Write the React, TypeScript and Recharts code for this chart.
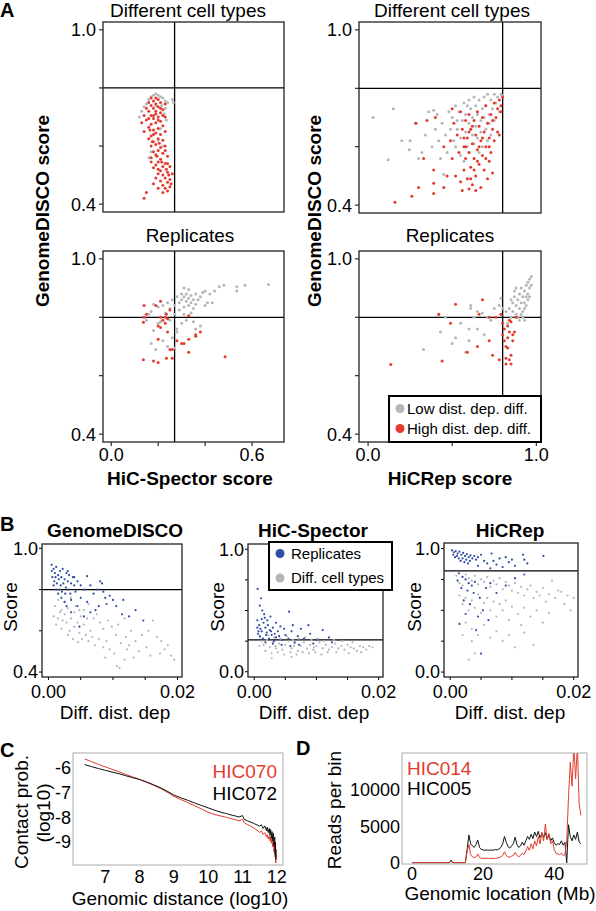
import { ScatterChart, Scatter, XAxis, YAxis, ReferenceLine, LineChart, Line } from 'recharts';

const FONT = '"Liberation Sans", Arial, Helvetica, sans-serif';
const RED = '#e53a2e';
const GREY = '#b3b6ba';
const BLUE = '#2f4ea6';

// Panel A: different cell types, HiC-Spector vs GenomeDISCO
const cellSpectorLow = [
  [0.18, 0.775], [0.19, 0.78], [0.2, 0.775], [0.21, 0.77], [0.22, 0.765], [0.17, 0.77], [0.23, 0.755], [0.24, 0.75],
  [0.26, 0.76], [0.265, 0.75], [0.14, 0.735], [0.13, 0.72], [0.15, 0.745], [0.16, 0.76], [0.215, 0.74], [0.23, 0.73],
  [0.225, 0.71], [0.235, 0.69], [0.12, 0.7], [0.2, 0.62], [0.22, 0.6], [0.16, 0.56], [0.17, 0.58], [0.21, 0.66], [0.19, 0.74]
];
const cellSpectorHigh = [
  [0.17, 0.765], [0.19, 0.765], [0.2, 0.76], [0.18, 0.755], [0.16, 0.75], [0.21, 0.75], [0.19, 0.745], [0.17, 0.74],
  [0.2, 0.735], [0.15, 0.73], [0.18, 0.73], [0.22, 0.725], [0.16, 0.72], [0.19, 0.72], [0.21, 0.715], [0.14, 0.705],
  [0.17, 0.705], [0.2, 0.7], [0.23, 0.7], [0.18, 0.695], [0.15, 0.69], [0.21, 0.685], [0.13, 0.68], [0.19, 0.68],
  [0.17, 0.675], [0.22, 0.67], [0.16, 0.665], [0.2, 0.66], [0.18, 0.655], [0.23, 0.65], [0.14, 0.65], [0.19, 0.645],
  [0.21, 0.64], [0.17, 0.635], [0.16, 0.625], [0.2, 0.625], [0.22, 0.62], [0.18, 0.615], [0.19, 0.605], [0.23, 0.6],
  [0.17, 0.6], [0.21, 0.595], [0.2, 0.585], [0.18, 0.58], [0.22, 0.575], [0.19, 0.57], [0.24, 0.565], [0.17, 0.56],
  [0.21, 0.555], [0.2, 0.545], [0.23, 0.54], [0.19, 0.535], [0.22, 0.53], [0.25, 0.53], [0.18, 0.525], [0.21, 0.515],
  [0.24, 0.51], [0.2, 0.505], [0.22, 0.5], [0.26, 0.505], [0.23, 0.49], [0.25, 0.485], [0.21, 0.48], [0.24, 0.475],
  [0.22, 0.465], [0.25, 0.46], [0.23, 0.455], [0.24, 0.445], [0.22, 0.44], [0.2, 0.455], [0.15, 0.44], [0.14, 0.42],
  [0.18, 0.47], [0.19, 0.49], [0.2, 0.52], [0.17, 0.545], [0.23, 0.585], [0.24, 0.54], [0.18, 0.64], [0.2, 0.69],
  [0.22, 0.705], [0.16, 0.695], [0.19, 0.71], [0.21, 0.73], [0.23, 0.745], [0.18, 0.705], [0.165, 0.655], [0.175, 0.615],
  [0.205, 0.61], [0.195, 0.565], [0.215, 0.545], [0.235, 0.52], [0.255, 0.47], [0.245, 0.5]
];

// Panel A: different cell types, HiCRep vs GenomeDISCO
const cellRepLow = [
  [0.03, 0.7], [0.12, 0.555], [0.15, 0.73], [0.2, 0.62], [0.25, 0.62], [0.245, 0.59], [0.28, 0.68], [0.32, 0.58],
  [0.36, 0.72], [0.39, 0.725], [0.45, 0.505], [0.3, 0.56], [0.34, 0.64], [0.38, 0.6], [0.42, 0.62], [0.44, 0.68],
  [0.41, 0.71], [0.47, 0.58], [0.46, 0.64], [0.5, 0.7], [0.52, 0.74], [0.53, 0.66], [0.54, 0.72], [0.55, 0.63],
  [0.56, 0.69], [0.57, 0.75], [0.58, 0.71], [0.58, 0.65], [0.59, 0.6], [0.6, 0.76], [0.6, 0.68], [0.61, 0.73],
  [0.62, 0.64], [0.62, 0.7], [0.63, 0.77], [0.63, 0.61], [0.64, 0.74], [0.64, 0.67], [0.65, 0.71], [0.65, 0.63],
  [0.66, 0.76], [0.67, 0.69], [0.67, 0.65], [0.68, 0.73], [0.68, 0.6], [0.69, 0.77], [0.69, 0.7], [0.7, 0.66],
  [0.7, 0.74], [0.71, 0.62], [0.71, 0.78], [0.72, 0.71], [0.72, 0.68], [0.73, 0.76], [0.73, 0.64], [0.74, 0.73],
  [0.75, 0.78], [0.75, 0.69], [0.76, 0.75], [0.77, 0.77], [0.78, 0.72], [0.79, 0.78], [0.8, 0.775], [0.49, 0.66],
  [0.51, 0.62], [0.48, 0.72], [0.55, 0.57], [0.57, 0.55], [0.52, 0.6], [0.6, 0.58], [0.66, 0.58], [0.43, 0.56],
  [0.4, 0.66], [0.53, 0.69], [0.61, 0.66], [0.59, 0.74]
];
const cellRepHigh = [
  [0.16, 0.41], [0.26, 0.43], [0.3, 0.46], [0.39, 0.475], [0.39, 0.44], [0.33, 0.56], [0.39, 0.52], [0.285, 0.68],
  [0.4, 0.7], [0.5, 0.73], [0.78, 0.64], [0.35, 0.69], [0.45, 0.46], [0.47, 0.5], [0.45, 0.6], [0.55, 0.72],
  [0.56, 0.66], [0.57, 0.6], [0.57, 0.52], [0.58, 0.69], [0.58, 0.56], [0.59, 0.63], [0.59, 0.49], [0.6, 0.71],
  [0.6, 0.58], [0.61, 0.66], [0.61, 0.53], [0.62, 0.61], [0.62, 0.47], [0.63, 0.69], [0.63, 0.56], [0.64, 0.64],
  [0.64, 0.5], [0.65, 0.72], [0.65, 0.59], [0.66, 0.67], [0.66, 0.54], [0.67, 0.62], [0.67, 0.46], [0.68, 0.7],
  [0.68, 0.57], [0.69, 0.65], [0.69, 0.52], [0.7, 0.74], [0.7, 0.6], [0.71, 0.68], [0.71, 0.49], [0.72, 0.63],
  [0.72, 0.55], [0.73, 0.71], [0.73, 0.58], [0.74, 0.66], [0.74, 0.51], [0.75, 0.75], [0.75, 0.62], [0.76, 0.7],
  [0.77, 0.73], [0.77, 0.65], [0.78, 0.76], [0.79, 0.74], [0.8, 0.77], [0.79, 0.72], [0.53, 0.64], [0.54, 0.58],
  [0.52, 0.5], [0.55, 0.48], [0.5, 0.56], [0.49, 0.62], [0.51, 0.68], [0.56, 0.45], [0.6, 0.455], [0.64, 0.45],
  [0.66, 0.6], [0.62, 0.67], [0.68, 0.63], [0.7, 0.56], [0.72, 0.6], [0.6, 0.65], [0.58, 0.6], [0.65, 0.55],
  [0.63, 0.52], [0.61, 0.49], [0.57, 0.63], [0.74, 0.69]
];

// Panel A: replicates, HiC-Spector vs GenomeDISCO
const repSpectorLow = [
  [0.3, 0.86], [0.31, 0.87], [0.32, 0.855], [0.33, 0.865], [0.34, 0.85], [0.32, 0.88], [0.33, 0.84], [0.35, 0.86],
  [0.29, 0.85], [0.31, 0.835], [0.34, 0.875], [0.36, 0.845], [0.3, 0.88], [0.28, 0.87], [0.33, 0.895], [0.31, 0.9],
  [0.35, 0.83], [0.37, 0.86], [0.38, 0.87], [0.36, 0.88], [0.29, 0.825], [0.27, 0.84], [0.26, 0.86], [0.25, 0.83],
  [0.24, 0.85], [0.22, 0.84], [0.2, 0.835], [0.18, 0.845], [0.17, 0.82], [0.27, 0.81], [0.31, 0.81], [0.34, 0.815],
  [0.4, 0.84], [0.41, 0.85], [0.43, 0.85], [0.42, 0.88], [0.4, 0.89], [0.39, 0.885], [0.44, 0.89], [0.46, 0.905],
  [0.48, 0.91], [0.535, 0.89], [0.535, 0.905], [0.57, 0.91], [0.67, 0.912], [0.17, 0.71], [0.18, 0.755], [0.26, 0.73],
  [0.28, 0.76], [0.3, 0.78], [0.32, 0.79], [0.36, 0.76], [0.38, 0.77], [0.24, 0.7], [0.22, 0.72], [0.19, 0.69],
  [0.21, 0.785], [0.25, 0.79], [0.28, 0.75], [0.2, 0.78], [0.15, 0.79], [0.23, 0.815], [0.16, 0.81], [0.35, 0.785],
  [0.27, 0.695]
];
const repSpectorHigh = [
  [0.137, 0.783], [0.14, 0.8], [0.15, 0.81], [0.19, 0.84], [0.21, 0.855], [0.137, 0.655], [0.18, 0.65], [0.2, 0.645],
  [0.235, 0.66], [0.26, 0.66], [0.26, 0.69], [0.33, 0.68], [0.3, 0.71], [0.31, 0.71], [0.28, 0.72], [0.33, 0.725],
  [0.36, 0.74], [0.38, 0.75], [0.485, 0.665], [0.2, 0.77], [0.21, 0.765], [0.23, 0.8], [0.235, 0.81], [0.33, 0.805],
  [0.25, 0.69], [0.2, 0.725], [0.22, 0.79], [0.21, 0.8], [0.24, 0.795], [0.25, 0.825], [0.14, 0.84], [0.36, 0.735],
  [0.23, 0.78], [0.24, 0.75]
];

// Panel A: replicates, HiCRep vs GenomeDISCO
const repRepLow = [
  [0.88, 0.84], [0.89, 0.86], [0.9, 0.83], [0.9, 0.88], [0.91, 0.85], [0.91, 0.9], [0.92, 0.87], [0.92, 0.82],
  [0.93, 0.89], [0.93, 0.85], [0.94, 0.91], [0.94, 0.87], [0.95, 0.88], [0.95, 0.92], [0.96, 0.9], [0.96, 0.93],
  [0.97, 0.91], [0.97, 0.94], [0.87, 0.87], [0.86, 0.85], [0.85, 0.86], [0.88, 0.81], [0.89, 0.8], [0.9, 0.79],
  [0.91, 0.81], [0.92, 0.8], [0.93, 0.83], [0.94, 0.84], [0.95, 0.86], [0.87, 0.89], [0.88, 0.9], [0.86, 0.82],
  [0.85, 0.8], [0.84, 0.83], [0.96, 0.87], [0.93, 0.79], [0.33, 0.69], [0.5, 0.71], [0.43, 0.75], [0.61, 0.84],
  [0.61, 0.83], [0.65, 0.82], [0.6, 0.72], [0.58, 0.68], [0.6, 0.76], [0.65, 0.76], [0.69, 0.74], [0.71, 0.8],
  [0.75, 0.83], [0.79, 0.865], [0.73, 0.79], [0.63, 0.8], [0.46, 0.8], [0.42, 0.805], [0.68, 0.815], [0.78, 0.84],
  [0.8, 0.83], [0.55, 0.78], [0.52, 0.73], [0.83, 0.78], [0.82, 0.82]
];
const repRepHigh = [
  [0.135, 0.638], [0.42, 0.81], [0.44, 0.65], [0.49, 0.78], [0.52, 0.845], [0.59, 0.68], [0.65, 0.7], [0.68, 0.86],
  [0.66, 0.81], [0.72, 0.8], [0.72, 0.72], [0.74, 0.67], [0.78, 0.655], [0.76, 0.8], [0.8, 0.78], [0.8, 0.74],
  [0.81, 0.72], [0.82, 0.7], [0.83, 0.695], [0.82, 0.66], [0.84, 0.655], [0.85, 0.67], [0.86, 0.74], [0.83, 0.77],
  [0.84, 0.79], [0.85, 0.785], [0.88, 0.8], [0.82, 0.64], [0.85, 0.64], [0.87, 0.75], [0.84, 0.75], [0.86, 0.72],
  [0.79, 0.81], [0.81, 0.76], [0.83, 0.73]
];

// Panel B: score vs difference in distance dependence
const discoRep = [
  [0.0005, 0.92], [0.0008, 0.9], [0.001, 0.88], [0.0012, 0.91], [0.0015, 0.87], [0.0018, 0.89], [0.002, 0.86],
  [0.0022, 0.9], [0.0025, 0.85], [0.0028, 0.88], [0.003, 0.84], [0.0032, 0.87], [0.0035, 0.83], [0.0038, 0.86],
  [0.004, 0.82], [0.0006, 0.86], [0.0009, 0.84], [0.0013, 0.83], [0.0016, 0.85], [0.0019, 0.82], [0.0023, 0.83],
  [0.0027, 0.81], [0.0005, 0.89], [0.0011, 0.86], [0.0017, 0.8], [0.0021, 0.79], [0.0026, 0.78], [0.0031, 0.8],
  [0.0034, 0.78], [0.0042, 0.79], [0.0045, 0.84], [0.005, 0.82], [0.0055, 0.8], [0.006, 0.865], [0.0065, 0.82],
  [0.007, 0.78], [0.0075, 0.8], [0.008, 0.84], [0.0083, 0.83], [0.0085, 0.79], [0.009, 0.73], [0.0095, 0.77],
  [0.01, 0.75], [0.0105, 0.72], [0.0116, 0.75], [0.0114, 0.68], [0.0073, 0.7], [0.0147, 0.65], [0.0125, 0.67],
  [0.006, 0.74], [0.005, 0.76], [0.0045, 0.72], [0.0035, 0.75], [0.0025, 0.74], [0.002, 0.76], [0.0015, 0.78],
  [0.0078, 0.72], [0.0088, 0.76], [0.0065, 0.69], [0.0055, 0.67], [0.0135, 0.7], [0.0035, 0.69], [0.0048, 0.62],
  [0.0028, 0.72], [0.0012, 0.8], [0.0008, 0.82], [0.004, 0.86], [0.003, 0.89]
];
const discoCell = [
  [0.0018, 0.69], [0.001, 0.72], [0.0015, 0.66], [0.002, 0.7], [0.0025, 0.68], [0.003, 0.71], [0.0035, 0.66],
  [0.004, 0.69], [0.0045, 0.64], [0.005, 0.67], [0.0055, 0.63], [0.006, 0.66], [0.0065, 0.6], [0.0012, 0.63],
  [0.002, 0.61], [0.0028, 0.64], [0.0033, 0.6], [0.004, 0.62], [0.0048, 0.59], [0.0052, 0.56], [0.0058, 0.58],
  [0.0062, 0.55], [0.0068, 0.57], [0.0072, 0.53], [0.0078, 0.56], [0.0046, 0.545], [0.0085, 0.52], [0.009, 0.55],
  [0.0095, 0.51], [0.0106, 0.43], [0.011, 0.42], [0.0122, 0.51], [0.0152, 0.52], [0.0173, 0.49], [0.019, 0.48],
  [0.0162, 0.65], [0.0155, 0.6], [0.0145, 0.58], [0.0135, 0.55], [0.0128, 0.6], [0.012, 0.57], [0.0112, 0.54],
  [0.0105, 0.58], [0.0098, 0.62], [0.0092, 0.65], [0.0085, 0.61], [0.008, 0.64], [0.0075, 0.68], [0.007, 0.66],
  [0.0175, 0.55], [0.0185, 0.53], [0.0168, 0.57], [0.0158, 0.48], [0.014, 0.5], [0.0132, 0.47], [0.0118, 0.46],
  [0.0025, 0.74], [0.0035, 0.76], [0.0015, 0.75], [0.0055, 0.7], [0.0062, 0.73], [0.0042, 0.72], [0.0022, 0.65],
  [0.0008, 0.67], [0.003, 0.58], [0.0038, 0.56], [0.0048, 0.7], [0.0102, 0.49], [0.0088, 0.47], [0.0195, 0.46],
  [0.018, 0.51], [0.0108, 0.63], [0.0118, 0.66], [0.0125, 0.53]
];
const spectorRep = [
  [0.00055, 0.676], [0.0009, 0.54], [0.0012, 0.43], [0.0017, 0.44], [0.0056, 0.49], [0.0087, 0.38], [0.0005, 0.42],
  [0.0008, 0.38], [0.001, 0.35], [0.0012, 0.33], [0.0015, 0.4], [0.0018, 0.36], [0.002, 0.32], [0.0022, 0.38],
  [0.0025, 0.34], [0.0028, 0.3], [0.003, 0.36], [0.0033, 0.31], [0.0035, 0.28], [0.0006, 0.31], [0.0009, 0.29],
  [0.0014, 0.27], [0.0019, 0.3], [0.0024, 0.27], [0.0027, 0.33], [0.0032, 0.25], [0.0038, 0.33], [0.004, 0.29],
  [0.0045, 0.26], [0.005, 0.3], [0.0055, 0.27], [0.006, 0.33], [0.0065, 0.24], [0.007, 0.29], [0.0075, 0.35],
  [0.008, 0.27], [0.009, 0.31], [0.01, 0.26], [0.011, 0.34], [0.012, 0.28], [0.0125, 0.24], [0.0042, 0.37],
  [0.0048, 0.35], [0.0062, 0.38], [0.0035, 0.4], [0.0026, 0.45], [0.0013, 0.5], [0.0011, 0.6], [0.0016, 0.47],
  [0.0021, 0.42], [0.0072, 0.22], [0.0058, 0.21], [0.0044, 0.22], [0.003, 0.23], [0.0018, 0.24], [0.0095, 0.23],
  [0.0005, 0.36], [0.0007, 0.33], [0.0135, 0.26]
];
const spectorCell = [
  [0.001, 0.28], [0.0015, 0.22], [0.002, 0.26], [0.0025, 0.2], [0.003, 0.24], [0.0035, 0.19], [0.004, 0.23],
  [0.0045, 0.18], [0.005, 0.22], [0.0055, 0.25], [0.006, 0.19], [0.0065, 0.23], [0.007, 0.17], [0.0075, 0.21],
  [0.008, 0.24], [0.0085, 0.19], [0.009, 0.22], [0.0095, 0.18], [0.01, 0.21], [0.0105, 0.24], [0.011, 0.19],
  [0.0115, 0.22], [0.012, 0.18], [0.0125, 0.2], [0.013, 0.23], [0.0135, 0.19], [0.014, 0.21], [0.0145, 0.18],
  [0.015, 0.22], [0.0155, 0.2], [0.016, 0.19], [0.0165, 0.17], [0.017, 0.21], [0.0175, 0.2], [0.018, 0.18],
  [0.0185, 0.21], [0.019, 0.2], [0.0018, 0.17], [0.0028, 0.15], [0.0038, 0.16], [0.0048, 0.14], [0.0058, 0.16],
  [0.0068, 0.14], [0.0078, 0.16], [0.0088, 0.15], [0.0098, 0.16], [0.0108, 0.14], [0.0118, 0.16], [0.0022, 0.3],
  [0.0032, 0.28], [0.0042, 0.27], [0.0052, 0.29], [0.0062, 0.26], [0.0072, 0.27], [0.0082, 0.28], [0.0092, 0.26],
  [0.0102, 0.27], [0.0112, 0.25], [0.0128, 0.26], [0.0142, 0.25], [0.0158, 0.24], [0.0012, 0.25], [0.0008, 0.21],
  [0.0034, 0.21], [0.0064, 0.21], [0.0096, 0.2], [0.0132, 0.16], [0.0152, 0.15], [0.0172, 0.16], [0.0028, 0.11],
  [0.006, 0.12]
];
const hicrepRep = [
  [0.0003, 0.985], [0.0006, 0.97], [0.0009, 0.98], [0.0012, 0.96], [0.0015, 0.975], [0.0018, 0.95], [0.0021, 0.965],
  [0.0024, 0.94], [0.0027, 0.955], [0.003, 0.93], [0.0033, 0.945], [0.0036, 0.92], [0.0039, 0.94], [0.0042, 0.91],
  [0.0005, 0.95], [0.0008, 0.93], [0.0011, 0.94], [0.0014, 0.92], [0.0017, 0.9], [0.002, 0.92], [0.0023, 0.89],
  [0.0026, 0.91], [0.0029, 0.88], [0.0032, 0.9], [0.0045, 0.93], [0.005, 0.95], [0.0055, 0.9], [0.006, 0.88],
  [0.0067, 0.96], [0.007, 0.9], [0.0075, 0.87], [0.008, 0.92], [0.009, 0.93], [0.0095, 0.89], [0.01, 0.91],
  [0.0105, 0.86], [0.0118, 0.95], [0.012, 0.91], [0.0125, 0.88], [0.0151, 0.94], [0.0085, 0.85], [0.0065, 0.84],
  [0.0045, 0.86], [0.0014, 0.8], [0.002, 0.77], [0.0025, 0.75], [0.003, 0.72], [0.0035, 0.7], [0.004, 0.73],
  [0.0012, 0.74], [0.0018, 0.68], [0.0028, 0.66], [0.0038, 0.64], [0.0048, 0.6], [0.0053, 0.5], [0.0042, 0.34],
  [0.0015, 0.39], [0.005, 0.15], [0.0058, 0.68], [0.0065, 0.72], [0.0075, 0.64], [0.009, 0.7], [0.0022, 0.58],
  [0.0032, 0.55], [0.0045, 0.45], [0.0062, 0.42], [0.0025, 0.47], [0.0105, 0.76], [0.012, 0.79]
];
const hicrepCell = [
  [0.001, 0.78], [0.0015, 0.72], [0.002, 0.7], [0.0025, 0.79], [0.003, 0.76], [0.0035, 0.74], [0.004, 0.78],
  [0.0045, 0.71], [0.005, 0.75], [0.0055, 0.73], [0.006, 0.77], [0.0065, 0.69], [0.007, 0.74], [0.0075, 0.71],
  [0.008, 0.76], [0.0085, 0.67], [0.009, 0.73], [0.0095, 0.7], [0.01, 0.66], [0.0105, 0.72], [0.011, 0.64],
  [0.0115, 0.69], [0.012, 0.62], [0.0125, 0.67], [0.013, 0.7], [0.0135, 0.6], [0.014, 0.65], [0.0145, 0.62],
  [0.015, 0.68], [0.0155, 0.57], [0.0165, 0.74], [0.016, 0.63], [0.017, 0.6], [0.0175, 0.66], [0.018, 0.65],
  [0.0185, 0.55], [0.019, 0.62], [0.0195, 0.5], [0.02, 0.6], [0.0015, 0.62], [0.002, 0.55], [0.0025, 0.6],
  [0.003, 0.5], [0.0035, 0.58], [0.004, 0.52], [0.0045, 0.63], [0.005, 0.48], [0.0055, 0.56], [0.006, 0.6],
  [0.0065, 0.5], [0.007, 0.57], [0.0075, 0.45], [0.008, 0.55], [0.0085, 0.5], [0.009, 0.58], [0.0095, 0.42],
  [0.01, 0.53], [0.011, 0.47], [0.012, 0.52], [0.013, 0.45], [0.014, 0.5], [0.015, 0.4], [0.016, 0.48],
  [0.0025, 0.4], [0.0035, 0.35], [0.0045, 0.3], [0.0055, 0.38], [0.0065, 0.28], [0.0075, 0.33], [0.0085, 0.25],
  [0.0095, 0.3], [0.0105, 0.2], [0.0035, 0.25], [0.004, 0.15], [0.002, 0.3], [0.003, 0.1], [0.012, 0.32],
  [0.0135, 0.22], [0.0115, 0.38]
];

// Panel C: contact probability vs genomic distance (log10)
const contactDist = [
  6.4, 6.6, 6.8, 7.0, 7.2, 7.4, 7.6, 7.8, 8.0, 8.2, 8.4, 8.6, 8.8, 9.0, 9.2, 9.4, 9.6, 9.8, 10.0, 10.2, 10.4,
  10.5, 10.6, 10.7, 10.8, 10.9, 11.0, 11.05, 11.15, 11.25, 11.35, 11.45, 11.5,
  11.55, 11.6, 11.65, 11.7, 11.72, 11.75, 11.78, 11.8, 11.82, 11.84, 11.86, 11.88, 11.9, 11.92, 11.94, 11.95, 11.96, 11.97, 11.98
];
const hic072 = [
  -5.87, -5.95, -6.03, -6.1, -6.17, -6.24, -6.32, -6.4, -6.47, -6.57, -6.68, -6.8, -6.94, -7.1, -7.21, -7.31, -7.42, -7.52, -7.62, -7.72, -7.81,
  -7.84, -7.88, -7.92, -7.95, -7.99, -7.93, -8.08, -8.15, -8.2, -8.26, -8.33, -8.36,
  -8.3, -8.45, -8.35, -8.55, -8.4, -8.62, -8.45, -8.72, -8.5, -8.85, -8.58, -8.95, -8.65, -9.15, -8.8, -9.5, -9.0, -9.7, -9.3
];
const hic070 = [
  -5.64, -5.75, -5.86, -5.96, -6.06, -6.16, -6.27, -6.37, -6.47, -6.58, -6.7, -6.83, -6.98, -7.15, -7.28, -7.4, -7.53, -7.66, -7.8, -7.89, -7.96,
  -7.99, -8.03, -8.07, -8.1, -8.14, -8.08, -8.22, -8.3, -8.37, -8.45, -8.55, -8.62,
  -8.55, -8.7, -8.62, -8.8, -8.7, -8.88, -8.75, -8.95, -8.82, -9.05, -8.85, -9.2, -8.95, -9.4, -9.05, -9.6, -9.3, -9.85, -9.5
];

// Panel D: reads per bin along the chromosome (Mb)
const genomicLoc = [
  0, 0.5, 1, 1.5, 2, 2.5, 3, 3.5, 4, 4.5, 5, 5.5, 6, 6.5, 7, 7.5, 8, 8.5, 9, 9.5, 10, 10.5,
  11, 11.5, 12, 12.5, 13, 13.5, 14, 14.5, 15, 15.5, 16, 16.5, 17, 17.5, 18, 18.5, 19, 19.5,
  20, 20.5, 21, 21.5, 22, 22.5, 23, 23.5, 24, 24.5, 25, 25.5, 26, 26.5, 27, 27.5, 28, 28.5, 29, 29.5,
  30, 30.5, 31, 31.5, 32, 32.5, 33, 33.5, 34, 34.5, 35, 35.5, 36, 36.5, 37, 37.5, 38, 38.5, 39, 39.5,
  40, 40.5, 41, 41.5, 42, 42.5, 43, 43.5, 44, 44.5, 45, 45.5, 46, 46.5, 47, 47.5
];
const hic005 = [
  0, 0, 0, 0, 0, 0, 0, 0, 0, 0, 0, 0, 0, 0, 0, 0, 0, 0, 0, 0, 0, 0,
  350, 0, 0, 0, 0, 0, 0, 0, 0, 1800, 3800, 2600, 2300, 2100, 2500, 3100, 2100, 1800,
  1750, 1700, 1750, 1700, 1750, 1700, 1750, 1800, 1750, 1900, 2100, 2600, 3600, 2800, 2200, 2000, 2300, 2600, 3500, 2500,
  2100, 2300, 2800, 2400, 3000, 3600, 3200, 3900, 3300, 4200, 3600, 4300, 3400, 4000, 3500, 4100, 3200, 3800, 3000, 3400,
  2700, 2400, 2600, 2500, 3000, 2400, 2800, 0, 5200, 3600, 3000, 3800, 3200, 4200, 2800, 2600
];
const hic014 = [
  0, 0, 0, 0, 0, 0, 0, 0, 0, 0, 0, 0, 0, 0, 0, 0, 0, 0, 0, 0, 0, 0,
  250, 0, 0, 0, 0, 0, 0, 0, 0, 1500, 2500, 1100, 800, 700, 800, 1200, 700, 600,
  600, 560, 620, 580, 600, 570, 620, 590, 640, 700, 800, 1000, 1500, 1000, 800, 750, 900, 1000, 1400, 1000,
  800, 1000, 1300, 1100, 1600, 2200, 1700, 2600, 1900, 3000, 2300, 3600, 2600, 4200, 3000, 5300, 3200, 4000, 2600, 3000,
  1800, 1300, 1200, 1100, 1300, 1000, 1100, 3000, 9000, 13800, 10500, 16000, 11500, 16000, 8000, 6500
];

const contactData = contactDist.map((d, i) => ({ d, b: hic072[i], r: hic070[i] }));
const readsData = genomicLoc.map((x, i) => ({ x, b: hic005[i], r: hic014[i] }));

const tickStyle = { fill: '#000', fontSize: 18, fontFamily: FONT };

const labeler = (pairs: [number, string][]) => (v: number) => {
  const hit = pairs.find(p => Math.abs(p[0] - v) < 1e-9);
  return hit ? hit[1] : '';
};

const dot = (color: string, r: number) => (p: any) => <circle cx={p.cx} cy={p.cy} r={r} fill={color} />;

function ScatterPanel({ box, xDomain, yDomain, xTicks, yTicks, xLabels, yLabels, refX, refY, series, r, showX, tickLen, yMargin, xMargin }: any) {
  const YW = 50, PAD = 6, XH = 30, RP = 26;
  const [x0, y0, x1, y1] = box;
  return (
    <div style={{ position: 'absolute', left: x0 - YW, top: y0 - PAD }}>
      <ScatterChart
        width={x1 - x0 + YW + RP}
        height={y1 - y0 + PAD + (showX ? XH : PAD)}
        margin={{ top: PAD, right: RP, bottom: showX ? 0 : PAD, left: 0 }}
      >
        <XAxis type="number" dataKey="x" domain={xDomain} allowDataOverflow ticks={xTicks} interval={0}
          tickFormatter={labeler(xLabels)} hide={!showX} height={XH} axisLine={false}
          tickSize={tickLen} tickMargin={xMargin} tickLine={{ stroke: '#000' }} tick={tickStyle} />
        <YAxis type="number" dataKey="y" domain={yDomain} allowDataOverflow ticks={yTicks} interval={0}
          tickFormatter={labeler(yLabels)} width={YW} axisLine={false}
          tickSize={tickLen} tickMargin={yMargin} tickLine={{ stroke: '#000' }} tick={tickStyle} />
        {refX !== undefined && <ReferenceLine x={refX} stroke="#000" strokeWidth={1.3} />}
        {refY !== undefined && <ReferenceLine y={refY} stroke="#000" strokeWidth={1.3} />}
        {series.map((s: any, i: number) => (
          <Scatter key={i} data={s.data.map(([x, y]: number[]) => ({ x, y }))} shape={dot(s.color, r)} isAnimationActive={false} />
        ))}
      </ScatterChart>
    </div>
  );
}

const A_Y: [number, string][] = [[1, '1.0'], [0.4, '0.4']];
const B_X: [number, string][] = [[0, '0.00'], [0.02, '0.02']];

export default function App() {
  const aCommon = { yDomain: [0.373, 1.027], yTicks: [0.4, 0.6, 0.8, 1.0], yLabels: A_Y, refY: 0.8, r: 1.5, tickLen: 4, yMargin: 3, xMargin: 2 };
  const bCommon = { xDomain: [-0.001, 0.0207], xTicks: [0, 0.005, 0.01, 0.015, 0.02], xLabels: B_X, r: 1.1, tickLen: 3, yMargin: 1, xMargin: 5, showX: true };
  return (
    <div style={{ position: 'absolute', left: 0, top: 0, width: 596, height: 911, background: '#fff', fontFamily: FONT }}>
      <ScatterPanel {...aCommon} box={[103, 22, 284, 212]} xDomain={[-0.035, 0.736]} xTicks={[0, 0.2, 0.4, 0.6]} xLabels={[]}
        refX={0.27} showX={false} series={[{ data: cellSpectorLow, color: GREY }, { data: cellSpectorHigh, color: RED }]} />
      <ScatterPanel {...aCommon} box={[359, 22, 541, 213]} xDomain={[-0.054, 1.028]} xTicks={[0, 0.5, 1]} xLabels={[]}
        refX={0.8} showX={false} series={[{ data: cellRepLow, color: GREY }, { data: cellRepHigh, color: RED }]} />
      <ScatterPanel {...aCommon} box={[103, 251, 284, 442]} xDomain={[-0.035, 0.736]} xTicks={[0, 0.2, 0.4, 0.6]}
        xLabels={[[0, '0.0'], [0.6, '0.6']]} refX={0.27} showX
        series={[{ data: repSpectorLow, color: GREY }, { data: repSpectorHigh, color: RED }]} />
      <ScatterPanel {...aCommon} box={[359, 251, 541, 442]} xDomain={[-0.054, 1.028]} xTicks={[0, 0.5, 1]}
        xLabels={[[0, '0.0'], [1, '1.0']]} refX={0.8} showX
        series={[{ data: repRepLow, color: GREY }, { data: repRepHigh, color: RED }]} />

      <ScatterPanel {...bCommon} box={[42, 544, 182, 677]} yDomain={[0.376, 1.021]} yTicks={[0.4, 0.6, 0.8, 1.0]} yLabels={A_Y}
        refY={0.8} series={[{ data: discoCell, color: GREY }, { data: discoRep, color: BLUE }]} />
      <ScatterPanel {...bCommon} box={[248, 544, 383, 677]} yDomain={[-0.043, 1.043]} yTicks={[0, 0.25, 0.5, 0.75, 1]}
        yLabels={[[1, '1.0'], [0, '0.0']]} refY={0.26} series={[{ data: spectorCell, color: GREY }, { data: spectorRep, color: BLUE }]} />
      <ScatterPanel {...bCommon} box={[444, 543, 578, 677]} yDomain={[-0.04, 1.045]} yTicks={[0, 0.25, 0.5, 0.75, 1]}
        yLabels={[[1, '1.0'], [0, '0.0']]} refY={0.82} series={[{ data: hicrepCell, color: GREY }, { data: hicrepRep, color: BLUE }]} />

      <div style={{ position: 'absolute', left: 73 - 40, top: 753 }}>
        <LineChart width={210 + 40 + 12} height={112 + 30} data={contactData} margin={{ top: 0, right: 12, bottom: 0, left: 0 }}>
          <XAxis type="number" dataKey="d" domain={[6.06, 12.18]} allowDataOverflow ticks={[7, 8, 9, 10, 11, 12]} interval={0}
            height={30} axisLine={false} tickLine={false} tickSize={0} tickMargin={5} tick={tickStyle} />
          <YAxis type="number" domain={[-9.93, -5.4]} allowDataOverflow ticks={[-9, -8, -7, -6]} interval={0}
            width={40} axisLine={false} tickLine={false} tickSize={0} tickMargin={2} tick={tickStyle} />
          <Line type="linear" dataKey="r" stroke={RED} strokeWidth={1} dot={false} isAnimationActive={false} />
          <Line type="linear" dataKey="b" stroke="#111" strokeWidth={1} dot={false} isAnimationActive={false} />
        </LineChart>
      </div>

      <div style={{ position: 'absolute', left: 402 - 60, top: 753 }}>
        <LineChart width={185 + 60 + 8} height={111 + 30} data={readsData} margin={{ top: 0, right: 8, bottom: 0, left: 0 }}>
          <XAxis type="number" dataKey="x" domain={[-2.8, 49.2]} allowDataOverflow ticks={[0, 20, 40]} interval={0}
            height={30} axisLine={false} tickLine={false} tickSize={0} tickMargin={3} tick={tickStyle} />
          <YAxis type="number" domain={[-180, 15050]} allowDataOverflow ticks={[0, 5000, 10000]} interval={0}
            width={60} axisLine={false} tickLine={false} tickSize={0} tickMargin={2} tick={tickStyle} />
          <Line type="linear" dataKey="b" stroke="#111" strokeWidth={1} dot={false} isAnimationActive={false} />
          <Line type="linear" dataKey="r" stroke={RED} strokeWidth={1} dot={false} isAnimationActive={false} />
        </LineChart>
      </div>

      <svg width={596} height={911} style={{ position: 'absolute', left: 0, top: 0, pointerEvents: 'none' }} fontFamily={FONT}>
        {/* frames */}
        <g fill="none" stroke="#222" strokeWidth={1.3}>
          <rect x={103} y={22} width={181} height={190} />
          <rect x={359} y={22} width={182} height={191} />
          <rect x={103} y={251} width={181} height={191} />
          <rect x={359} y={251} width={182} height={191} />
          <rect x={42} y={544} width={140} height={133} />
          <rect x={248} y={544} width={135} height={133} />
          <rect x={444} y={543} width={134} height={134} />
        </g>
        <g fill="none" stroke="#aaa" strokeWidth={1}>
          <rect x={73} y={753} width={210} height={112} />
          <rect x={402} y={753} width={185} height={111} />
        </g>

        {/* panel letters */}
        <g fontWeight="bold" fontSize={20}>
          <text x={0} y={17}>A</text>
          <text x={0} y={531}>B</text>
          <text x={0} y={757}>C</text>
          <text x={296} y={755}>D</text>
        </g>

        {/* panel A text */}
        <g fontSize={19} fontWeight="normal" textAnchor="middle">
          <text x={188} y={17}>Different cell types</text>
          <text x={452} y={17}>Different cell types</text>
          <text x={190} y={242}>Replicates</text>
          <text x={450} y={242}>Replicates</text>
        </g>
        <g fontSize={19} fontWeight="bold" textAnchor="middle">
          <text transform="translate(49,211) rotate(-90)">GenomeDISCO score</text>
          <text transform="translate(321,211) rotate(-90)">GenomeDISCO score</text>
          <text x={190} y={485}>HiC-Spector score</text>
          <text x={450} y={485}>HiCRep score</text>
        </g>
        <rect x={389} y={396} width={152} height={46} fill="#fff" stroke="#000" strokeWidth={2} />
        <circle cx={400} cy={408.5} r={4.5} fill={GREY} />
        <circle cx={400} cy={428.5} r={4.5} fill={RED} />
        <text x={407} y={413.5} fontSize={15}>Low dist. dep. diff.</text>
        <text x={407} y={433.5} fontSize={15}>High dist. dep. diff.</text>

        {/* panel B text */}
        <g fontSize={19} fontWeight="bold" textAnchor="middle">
          <text x={115} y={537}>GenomeDISCO</text>
          <text x={313} y={537}>HiC-Spector</text>
          <text x={510} y={537}>HiCRep</text>
        </g>
        <g fontSize={19} fontWeight="normal" textAnchor="middle">
          <text transform="translate(17,607) rotate(-90)">Score</text>
          <text transform="translate(224,607) rotate(-90)">Score</text>
          <text transform="translate(421,607) rotate(-90)">Score</text>
          <text x={115} y={719}>Diff. dist. dep</text>
          <text x={314} y={719}>Diff. dist. dep</text>
          <text x={510} y={719}>Diff. dist. dep</text>
        </g>
        <rect x={269} y={542} width={123} height={48} fill="#fff" stroke="#000" strokeWidth={2} />
        <circle cx={280} cy={553.5} r={4.5} fill={BLUE} />
        <circle cx={280} cy={578} r={4.5} fill={GREY} />
        <text x={291} y={558.5} fontSize={15}>Replicates</text>
        <text x={291} y={583} fontSize={15}>Diff. cell types</text>

        {/* panel C text */}
        <g fontSize={19} fontWeight="normal" textAnchor="middle">
          <text transform="translate(28,812) rotate(-90)">Contact prob.</text>
          <text transform="translate(50,813) rotate(-90)">(log10)</text>
          <text x={180} y={905}>Genomic distance (log10)</text>
        </g>
        <text x={277} y={778} fontSize={19} textAnchor="end" fill={RED}>HIC070</text>
        <text x={277} y={800} fontSize={19} textAnchor="end" fill="#000">HIC072</text>

        {/* panel D text */}
        <g fontSize={19} fontWeight="normal" textAnchor="middle">
          <text transform="translate(341,810) rotate(-90)">Reads per bin</text>
          <text x={500} y={900}>Genomic location (Mb)</text>
        </g>
        <text x={407} y={775} fontSize={19} fill={RED}>HIC014</text>
        <text x={407} y={795} fontSize={19} fill="#000">HIC005</text>
      </svg>
    </div>
  );
}
